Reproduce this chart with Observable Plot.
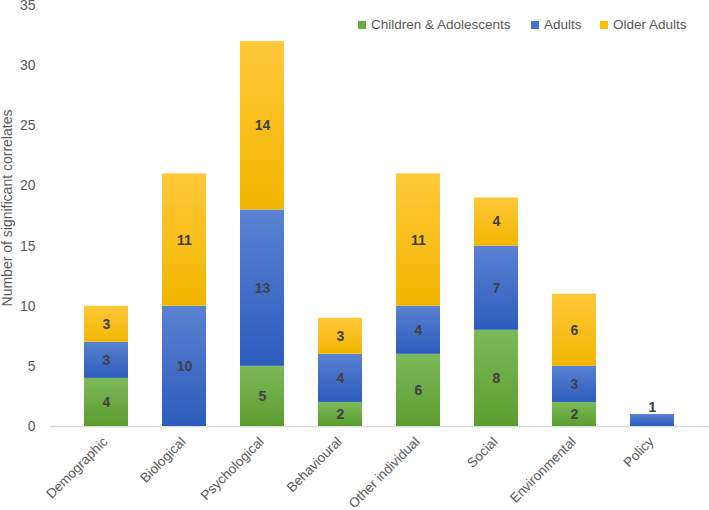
<!DOCTYPE html>
<html>
<head>
<meta charset="utf-8">
<script src="https://cdn.jsdelivr.net/npm/d3@7"></script>
<script src="https://cdn.jsdelivr.net/npm/@observablehq/plot@0.6"></script>
<style>
  body { margin: 0; background: #fff; font-family: "Liberation Sans", Arial, sans-serif; }
  #wrap { position: relative; width: 709px; height: 510px; }
  #legend { position: absolute; top: 16px; left: 0; width: 709px; height: 20px; font-size: 13.5px; color: #595959; }
  .li { position: absolute; top: 0; white-space: nowrap; line-height: 18px; }
  .sw { display: inline-block; width: 8px; height: 8px; margin-right: 5px; vertical-align: 0px; }
</style>
</head>
<body>
<div id="wrap">
  <div id="chart"></div>
  <div id="legend"></div>
</div>
<script>
const categories = ["Demographic", "Biological", "Psychological", "Behavioural", "Other individual", "Social", "Environmental", "Policy"];
const seriesNames = ["Children & Adolescents", "Adults", "Older Adults"];
const childrenAdolescents = [4, 0, 5, 2, 6, 8, 2, 0];
const adults = [3, 10, 13, 4, 4, 7, 3, 1];
const olderAdults = [3, 11, 14, 3, 11, 4, 6, 0];
const yTicks = [0, 5, 10, 15, 20, 25, 30, 35];

const seriesValues = [childrenAdolescents, adults, olderAdults];
const data = [];
seriesNames.forEach((s, si) => {
  categories.forEach((c, ci) => data.push({category: c, series: s, value: seriesValues[si][ci]}));
});

const gradIds = ["gC", "gA", "gO"];
const fills = gradIds.map(id => `url(#${id})`);

const chart = Plot.plot({
  width: 709,
  height: 510,
  marginLeft: 50,
  marginRight: 0,
  marginTop: 5,
  marginBottom: 84,
  style: {fontFamily: "Liberation Sans, Arial, sans-serif", fontSize: "14px", color: "#595959", background: "#fff", overflow: "visible"},
  x: {domain: categories, padding: 0.43, label: null},
  y: {domain: [0, 35], label: null},
  color: {domain: seriesNames, range: fills},
  marks: [
    Plot.ruleY([0], {stroke: "#d9d9d9", strokeWidth: 1.5}),
    Plot.barY(data, Plot.stackY({x: "category", y: "value", fill: "series", order: null})),
    Plot.text(data, Plot.stackY({x: "category", y: "value", z: "series", order: null, text: d => String(d.value), filter: d => d.value >= 2, fill: "#404040", fontWeight: "bold", fontSize: 14})),
    Plot.text(data, Plot.stackY({x: "category", y: "value", z: "series", order: null, text: d => String(d.value), filter: d => d.value === 1, fill: "#404040", fontWeight: "bold", fontSize: 14, dy: -13})),
    Plot.axisY({ticks: yTicks, tickSize: 0, tickPadding: 15, fontSize: 14, fill: "#595959", label: "Number of significant correlates", labelAnchor: "center", labelArrow: "none", labelOffset: 48}),
    Plot.axisX({tickSize: 0, tickRotate: -45, tickPadding: 13, dx: -1, fontSize: 13.5, fill: "#595959", label: null})
  ]
});

// nudge y-axis title up to match the reference
const yLab = chart.querySelector('g[aria-label="y-axis label"]');
if (yLab) {
  const t = yLab.getAttribute("transform") || "";
  yLab.setAttribute("transform", (t + " translate(0,-8)").trim());
}

// gradients
const ns = "http://www.w3.org/2000/svg";
const defs = document.createElementNS(ns, "defs");
const stops = [["#7cb95a", "#5c9d2f"], ["#5a82d2", "#2c5cbd"], ["#ffc83a", "#f1b600"]];
gradIds.forEach((id, i) => {
  const g = document.createElementNS(ns, "linearGradient");
  g.setAttribute("id", id);
  g.setAttribute("x1", "0"); g.setAttribute("y1", "0"); g.setAttribute("x2", "0"); g.setAttribute("y2", "1");
  [[0, stops[i][0]], [1, stops[i][1]]].forEach(([o, c]) => {
    const s = document.createElementNS(ns, "stop");
    s.setAttribute("offset", o); s.setAttribute("stop-color", c);
    g.appendChild(s);
  });
  defs.appendChild(g);
});
chart.insertBefore(defs, chart.firstChild);
document.getElementById("chart").appendChild(chart);

// legend
const legendColors = ["#6aab41", "#4472c4", "#ffc000"];
const legendX = [358, 531, 600];
const legend = document.getElementById("legend");
seriesNames.forEach((s, i) => {
  const d = document.createElement("div");
  d.className = "li";
  d.style.left = legendX[i] + "px";
  d.innerHTML = `<span class="sw" style="background:${legendColors[i]}"></span>${s.replace("&", "&amp;")}`;
  legend.appendChild(d);
});
</script>
</body>
</html>
